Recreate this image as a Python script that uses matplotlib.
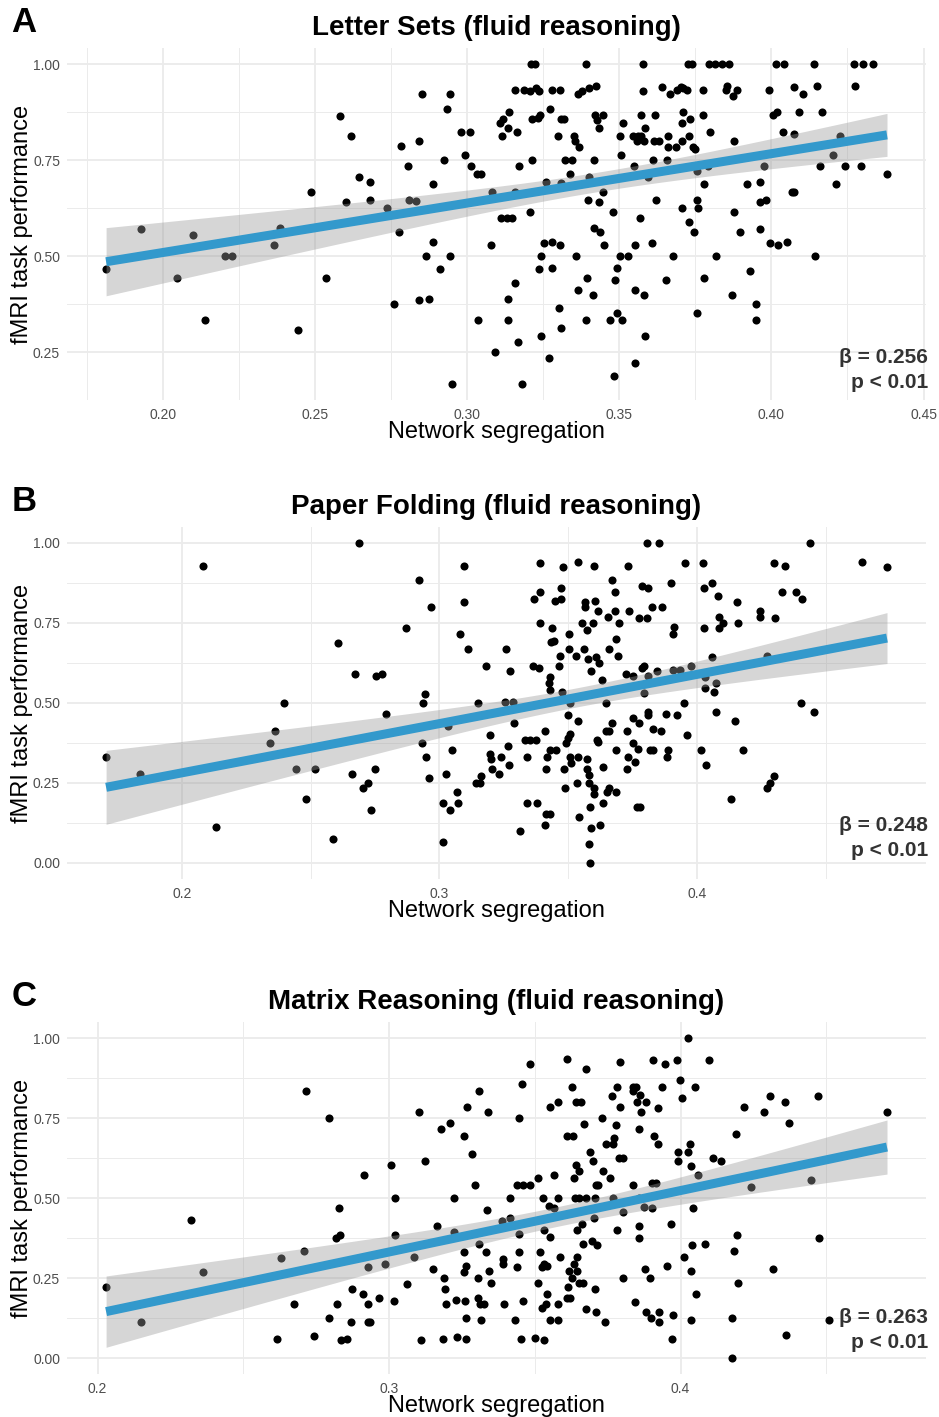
import numpy as np
import matplotlib.pyplot as plt
from matplotlib.ticker import MultipleLocator, FormatStrFormatter

plt.rcParams['font.family'] = ['Liberation Sans', 'DejaVu Sans']

panel_letters = ['A', 'B', 'C']
titles = ['Letter Sets (fluid reasoning)',
          'Paper Folding (fluid reasoning)',
          'Matrix Reasoning (fluid reasoning)']
stats = ['\u03b2 = 0.256\np < 0.01', '\u03b2 = 0.248\np < 0.01', '\u03b2 = 0.263\np < 0.01']
x_label = 'Network segregation'
y_label = 'fMRI task performance'

# (network segregation, task performance)
letter_sets = [
    (0.1813, 0.467), (0.1929, 0.571), (0.2045, 0.444), (0.2098, 0.556), (0.2139, 0.333),
    (0.2204, 0.500), (0.2227, 0.500), (0.2366, 0.530), (0.2384, 0.573), (0.2444, 0.307),
    (0.2488, 0.667), (0.2536, 0.444), (0.2600, 0.642), (0.2582, 0.866), (0.2618, 0.8125),
    (0.2646, 0.706),
    (0.3209, 1.000), (0.3224, 1.000), (0.3389, 1.000), (0.2850, 0.923), (0.2942, 0.923),
    (0.2932, 0.882), (0.3156, 0.933), (0.3188, 0.933), (0.3208, 0.931), (0.3225, 0.938),
    (0.3237, 0.929), (0.3280, 0.933), (0.3306, 0.933), (0.3365, 0.923), (0.3379, 0.931),
    (0.3401, 0.937), (0.3424, 0.943), (0.3272, 0.882), (0.3138, 0.875), (0.3119, 0.858),
    (0.3108, 0.847), (0.3134, 0.833), (0.3163, 0.824), (0.3115, 0.8125), (0.3213, 0.857),
    (0.3232, 0.859), (0.3240, 0.867), (0.3308, 0.857), (0.3317, 0.857), (0.3297, 0.8125),
    (0.3350, 0.8125), (0.3353, 0.800), (0.3367, 0.785), (0.3419, 0.867), (0.3447, 0.867),
    (0.3426, 0.854), (0.3434, 0.833), (0.3511, 0.847), (0.3503, 0.8125), (0.3505, 0.764),
    (0.2981, 0.824), (0.3010, 0.824), (0.2784, 0.786), (0.2842, 0.800), (0.2924, 0.750),
    (0.2994, 0.764), (0.2806, 0.734), (0.3011, 0.734), (0.3032, 0.714), (0.3045, 0.714),
    (0.3213, 0.750), (0.3171, 0.734), (0.3320, 0.750), (0.3343, 0.750), (0.3338, 0.714),
    (0.3417, 0.750), (0.2679, 0.692), (0.2679, 0.647), (0.2889, 0.6875), (0.2738, 0.626),
    (0.2810, 0.647), (0.2832, 0.643), (0.3082, 0.668), (0.3158, 0.668), (0.3258, 0.694),
    (0.3308, 0.691), (0.3402, 0.707), (0.3445, 0.667), (0.3396, 0.647), (0.3432, 0.641),
    (0.3206, 0.615), (0.3479, 0.615), (0.3111, 0.600), (0.3130, 0.600), (0.3148, 0.600),
    (0.2775, 0.5625), (0.3417, 0.572), (0.3437, 0.5625), (0.2889, 0.538), (0.3079, 0.5295),
    (0.3253, 0.533), (0.3280, 0.538), (0.3306, 0.5295), (0.3451, 0.5295), (0.2865, 0.500),
    (0.2943, 0.500), (0.3242, 0.500), (0.3358, 0.500), (0.3501, 0.500), (0.3530, 0.500),
    (0.2909, 0.466), (0.3237, 0.466), (0.3280, 0.469), (0.3492, 0.470), (0.3156, 0.429),
    (0.3395, 0.444), (0.3365, 0.411), (0.3414, 0.399), (0.3485, 0.4375), (0.2761, 0.375),
    (0.2842, 0.385), (0.2876, 0.389), (0.3134, 0.389), (0.3301, 0.364), (0.3494, 0.352),
    (0.3037, 0.333), (0.3134, 0.333), (0.3391, 0.333), (0.3470, 0.333), (0.3509, 0.333),
    (0.3310, 0.3125), (0.3241, 0.293), (0.3167, 0.277), (0.3091, 0.250), (0.3270, 0.235),
    (0.2949, 0.167), (0.3181, 0.167), (0.3481, 0.187),
    (0.3579, 1.000), (0.3726, 1.000), (0.3740, 1.000), (0.3794, 1.000), (0.3813, 1.000),
    (0.3837, 1.000), (0.3862, 1.000), (0.4014, 1.000), (0.4042, 1.000), (0.4139, 1.000),
    (0.4271, 1.000), (0.4301, 1.000), (0.4333, 1.000),
    (0.3579, 0.929), (0.3642, 0.939), (0.3667, 0.923), (0.3689, 0.933), (0.3703, 0.939),
    (0.3711, 0.937), (0.3722, 0.933), (0.3776, 0.933), (0.3854, 0.943), (0.3852, 0.933),
    (0.3873, 0.918), (0.3887, 0.933), (0.3992, 0.933), (0.4075, 0.939), (0.4104, 0.923),
    (0.4150, 0.943), (0.4276, 0.943), (0.3570, 0.867), (0.3619, 0.867), (0.3709, 0.875),
    (0.3707, 0.847), (0.3733, 0.858), (0.3776, 0.867), (0.4005, 0.867), (0.4018, 0.875),
    (0.4090, 0.875), (0.4167, 0.875), (0.3585, 0.833), (0.3797, 0.824), (0.4037, 0.824),
    (0.4074, 0.819), (0.3545, 0.8125), (0.3563, 0.8125), (0.3573, 0.8125), (0.3558, 0.800),
    (0.3582, 0.800), (0.3613, 0.800), (0.3631, 0.800), (0.3659, 0.8125), (0.3707, 0.800),
    (0.3729, 0.8125), (0.3659, 0.785), (0.3687, 0.785), (0.3742, 0.785), (0.3750, 0.778),
    (0.3876, 0.800), (0.4225, 0.8125), (0.3610, 0.750), (0.3657, 0.750), (0.3547, 0.734),
    (0.3595, 0.705), (0.3754, 0.721), (0.3790, 0.734), (0.3977, 0.734), (0.4161, 0.734),
    (0.4241, 0.734), (0.4296, 0.734), (0.4203, 0.764), (0.4380, 0.715), (0.4214, 0.6875),
    (0.3777, 0.6875), (0.3920, 0.6875), (0.3961, 0.692), (0.3621, 0.647), (0.3755, 0.647),
    (0.3758, 0.624), (0.3706, 0.625), (0.3964, 0.641), (0.3981, 0.647), (0.4068, 0.667),
    (0.4073, 0.667), (0.3567, 0.600), (0.3730, 0.589), (0.3745, 0.5625), (0.3877, 0.615),
    (0.3896, 0.5625), (0.3962, 0.571), (0.3552, 0.5295), (0.3608, 0.533), (0.3996, 0.533),
    (0.4021, 0.5295), (0.4052, 0.538), (0.3675, 0.500), (0.3818, 0.500), (0.4143, 0.500),
    (0.3653, 0.4375), (0.3777, 0.444), (0.3931, 0.462), (0.3552, 0.411), (0.3582, 0.399),
    (0.3869, 0.399), (0.3754, 0.352), (0.3950, 0.375), (0.3949, 0.333), (0.3583, 0.293),
    (0.3551, 0.222),
]

paper_folding = [
    (0.1706, 0.332), (0.1837, 0.278), (0.2083, 0.929), (0.2133, 0.111), (0.2344, 0.376),
    (0.2362, 0.411), (0.2397, 0.500), (0.2444, 0.294), (0.2518, 0.294), (0.2482, 0.200),
    (0.2588, 0.076), (0.2605, 0.6875), (0.2659, 0.277), (0.2673, 0.589), (0.2686, 1.000),
    (0.2921, 0.883), (0.2969, 0.801), (0.2871, 0.734), (0.3095, 0.929), (0.3095, 0.814),
    (0.3080, 0.715), (0.3112, 0.668), (0.3260, 0.668), (0.3273, 0.600), (0.3180, 0.616),
    (0.2752, 0.584), (0.2775, 0.589), (0.2943, 0.529), (0.2937, 0.500), (0.2791, 0.467),
    (0.3150, 0.500), (0.3254, 0.502), (0.3284, 0.504), (0.3288, 0.4375), (0.3033, 0.427),
    (0.3196, 0.400), (0.2934, 0.376), (0.2947, 0.332), (0.3047, 0.353), (0.2958, 0.267),
    (0.2749, 0.294), (0.2723, 0.249), (0.2704, 0.235), (0.2736, 0.166), (0.3026, 0.277),
    (0.3069, 0.222), (0.3012, 0.186), (0.3040, 0.166), (0.3073, 0.186), (0.3012, 0.067),
    (0.3162, 0.272), (0.3140, 0.249), (0.3159, 0.249), (0.3201, 0.324), (0.3196, 0.341),
    (0.3202, 0.294), (0.3232, 0.277), (0.3237, 0.332), (0.3266, 0.364), (0.3271, 0.306),
    (0.3312, 0.100), (0.3339, 0.186), (0.3380, 0.186), (0.3412, 0.152), (0.3411, 0.118),
    (0.3429, 0.153), (0.3332, 0.384), (0.3351, 0.384), (0.3373, 0.384), (0.3339, 0.332),
    (0.3411, 0.411), (0.3429, 0.353), (0.3451, 0.353), (0.3412, 0.294), (0.3416, 0.332),
    (0.3390, 0.939), (0.3367, 0.824), (0.3390, 0.847), (0.3392, 0.751), (0.3438, 0.733),
    (0.3434, 0.689), (0.3444, 0.694), (0.3468, 0.647), (0.3470, 0.858), (0.3449, 0.819),
    (0.3470, 0.824), (0.3478, 0.924), (0.3364, 0.616), (0.3385, 0.610), (0.3464, 0.616),
    (0.3429, 0.582), (0.3426, 0.561), (0.3429, 0.539), (0.3477, 0.534), (0.3508, 0.499),
    (0.3500, 0.461), (0.3536, 0.445), (0.3506, 0.402), (0.3500, 0.390), (0.3493, 0.374),
    (0.3482, 0.294), (0.3506, 0.332), (0.3537, 0.332), (0.3509, 0.311), (0.3535, 0.251),
    (0.3488, 0.235), (0.3574, 0.324), (0.3574, 0.294), (0.3581, 0.275), (0.3579, 0.251),
    (0.3601, 0.235), (0.3601, 0.215), (0.3584, 0.176), (0.3636, 0.186), (0.3540, 0.143),
    (0.3587, 0.110), (0.3623, 0.118), (0.3579, 0.058), (0.3585, 0.000), (0.3536, 0.942),
    (0.3598, 0.929), (0.3566, 0.814), (0.3566, 0.799), (0.3603, 0.818), (0.3614, 0.786),
    (0.3554, 0.751), (0.3594, 0.751), (0.3574, 0.728), (0.3501, 0.715), (0.3501, 0.668),
    (0.3530, 0.647), (0.3562, 0.668), (0.3578, 0.636), (0.3607, 0.645), (0.3620, 0.624),
    (0.3587, 0.600), (0.3632, 0.573), (0.3668, 0.883), (0.3680, 0.847), (0.3682, 0.786),
    (0.3655, 0.770), (0.3698, 0.751), (0.3685, 0.700), (0.3657, 0.668), (0.3691, 0.647),
    (0.3645, 0.500), (0.3668, 0.4375), (0.3646, 0.411), (0.3659, 0.411), (0.3610, 0.384),
    (0.3616, 0.377), (0.3684, 0.353), (0.3633, 0.301), (0.3659, 0.235), (0.3649, 0.223),
    (0.3684, 0.223), (0.3733, 0.929), (0.3737, 0.786), (0.3725, 0.591), (0.3726, 0.411),
    (0.3733, 0.332), (0.3726, 0.294),
    (0.3805, 1.000), (0.3852, 1.000), (0.4439, 1.000), (0.3952, 0.939), (0.4022, 0.939),
    (0.4299, 0.939), (0.4343, 0.929), (0.4640, 0.942), (0.4737, 0.924), (0.3785, 0.866),
    (0.3810, 0.858), (0.3900, 0.876), (0.4025, 0.858), (0.4057, 0.876), (0.4080, 0.834),
    (0.4331, 0.847), (0.4384, 0.847), (0.4408, 0.824), (0.3776, 0.765), (0.3805, 0.765),
    (0.3825, 0.801), (0.3862, 0.801), (0.4154, 0.814), (0.4245, 0.786), (0.4245, 0.770),
    (0.4304, 0.765), (0.4084, 0.770), (0.4102, 0.751), (0.4157, 0.751), (0.4085, 0.733),
    (0.4025, 0.733), (0.3911, 0.736), (0.3908, 0.715), (0.4058, 0.644), (0.3792, 0.614),
    (0.3785, 0.610), (0.3846, 0.600), (0.3908, 0.603), (0.3934, 0.603), (0.3975, 0.616),
    (0.4271, 0.647), (0.3753, 0.584), (0.3810, 0.585), (0.4032, 0.582), (0.4074, 0.561),
    (0.4031, 0.546), (0.4066, 0.534), (0.3794, 0.530), (0.3950, 0.500), (0.3811, 0.473),
    (0.3811, 0.4625), (0.3880, 0.467), (0.3921, 0.4625), (0.4074, 0.471), (0.4405, 0.500),
    (0.4452, 0.471), (0.3753, 0.454), (0.3775, 0.436), (0.3830, 0.418), (0.3859, 0.411),
    (0.3962, 0.400), (0.4146, 0.445), (0.3753, 0.376), (0.3772, 0.357), (0.3818, 0.353),
    (0.3827, 0.353), (0.3886, 0.353), (0.3882, 0.332), (0.4017, 0.353), (0.4180, 0.353),
    (0.3758, 0.314), (0.4034, 0.307), (0.4299, 0.272), (0.4281, 0.249), (0.4271, 0.235),
    (0.4133, 0.200), (0.3768, 0.176), (0.3779, 0.176),
]

matrix_reasoning = [
    (0.2029, 0.222), (0.2148, 0.1125), (0.2321, 0.430), (0.2362, 0.268), (0.2617, 0.059),
    (0.2630, 0.3135), (0.2674, 0.168), (0.2708, 0.334), (0.2743, 0.068), (0.2714, 0.834),
    (0.2795, 0.751), (0.2794, 0.125), (0.2820, 0.168), (0.2827, 0.468), (0.2817, 0.376),
    (0.2833, 0.386), (0.2836, 0.057), (0.2855, 0.059), (0.2869, 0.1125), (0.2873, 0.215),
    (0.2915, 0.573), (0.3006, 0.602), (0.3124, 0.617), (0.3104, 0.770), (0.3019, 0.501),
    (0.3019, 0.386), (0.2928, 0.168), (0.2929, 0.1125), (0.2935, 0.1125), (0.2964, 0.189),
    (0.2909, 0.201), (0.2987, 0.295), (0.2928, 0.286), (0.3060, 0.232), (0.3018, 0.178),
    (0.3084, 0.315), (0.3152, 0.279), (0.3165, 0.4125), (0.3188, 0.251), (0.3192, 0.215),
    (0.3194, 0.168), (0.3230, 0.183), (0.3260, 0.178), (0.3264, 0.125), (0.3233, 0.067),
    (0.3263, 0.059), (0.3185, 0.059), (0.3109, 0.056), (0.3224, 0.501), (0.3223, 0.393),
    (0.3256, 0.332), (0.3264, 0.289), (0.3256, 0.268), (0.3305, 0.251), (0.3310, 0.357),
    (0.3333, 0.332), (0.3342, 0.273), (0.3349, 0.236), (0.3305, 0.189), (0.3313, 0.168),
    (0.3327, 0.168), (0.3314, 0.118), (0.3393, 0.168), (0.3432, 0.118), (0.3454, 0.059),
    (0.3459, 0.178), (0.3502, 0.0635), (0.3530, 0.057), (0.3179, 0.716), (0.3210, 0.735),
    (0.3256, 0.695), (0.3283, 0.639), (0.3266, 0.786), (0.3310, 0.834), (0.3340, 0.770),
    (0.3293, 0.540), (0.3335, 0.4625), (0.3388, 0.429), (0.3416, 0.439), (0.3390, 0.311),
    (0.3392, 0.295), (0.3438, 0.286), (0.3447, 0.332), (0.3447, 0.3875), (0.3413, 0.501),
    (0.3440, 0.540), (0.3459, 0.540), (0.3482, 0.540), (0.3511, 0.5625), (0.3456, 0.858),
    (0.3446, 0.751), (0.3483, 0.919), (0.3512, 0.236), (0.3540, 0.201), (0.3525, 0.155),
    (0.3539, 0.168), (0.3578, 0.168), (0.3553, 0.118), (0.3580, 0.118), (0.3518, 0.332),
    (0.3533, 0.295), (0.3541, 0.289), (0.3525, 0.286), (0.3586, 0.315), (0.3551, 0.377),
    (0.3531, 0.401), (0.3529, 0.501), (0.3550, 0.474), (0.3564, 0.469), (0.3580, 0.501),
    (0.3565, 0.573), (0.3551, 0.786), (0.3578, 0.801), (0.3609, 0.935), (0.3629, 0.847),
    (0.3677, 0.902), (0.3641, 0.801), (0.3659, 0.801), (0.3668, 0.730), (0.3731, 0.751),
    (0.3609, 0.695), (0.3630, 0.695), (0.3688, 0.644), (0.3700, 0.617), (0.3641, 0.602),
    (0.3651, 0.584), (0.3635, 0.5625), (0.3636, 0.501), (0.3653, 0.501), (0.3674, 0.501),
    (0.3707, 0.501), (0.3708, 0.540), (0.3716, 0.540), (0.3734, 0.584), (0.3759, 0.5625),
    (0.3661, 0.419), (0.3645, 0.401), (0.3703, 0.4375), (0.3782, 0.401), (0.3665, 0.357),
    (0.3697, 0.366), (0.3714, 0.353), (0.3616, 0.272), (0.3645, 0.273), (0.3633, 0.295),
    (0.3644, 0.315), (0.3628, 0.251), (0.3651, 0.236), (0.3666, 0.236), (0.3612, 0.223),
    (0.3610, 0.189), (0.3622, 0.189), (0.3705, 0.215), (0.3676, 0.153), (0.3711, 0.145),
    (0.3742, 0.1125), (0.3766, 0.820), (0.3781, 0.847), (0.3793, 0.786), (0.3793, 0.924),
    (0.3777, 0.729), (0.3743, 0.668), (0.3767, 0.668), (0.3770, 0.689), (0.3789, 0.626),
    (0.3802, 0.626), (0.3767, 0.501), (0.3802, 0.457), (0.3802, 0.251),
    (0.4025, 1.000), (0.3904, 0.930), (0.3948, 0.918), (0.3987, 0.930), (0.4098, 0.930),
    (0.3838, 0.847), (0.3847, 0.847), (0.3836, 0.834), (0.3861, 0.822), (0.3849, 0.801),
    (0.3881, 0.801), (0.3863, 0.770), (0.3924, 0.780), (0.3936, 0.847), (0.3998, 0.869),
    (0.4005, 0.814), (0.4051, 0.847), (0.3858, 0.716), (0.3910, 0.694), (0.3921, 0.668),
    (0.3990, 0.644), (0.4027, 0.644), (0.4033, 0.668), (0.3992, 0.617), (0.4034, 0.601),
    (0.4061, 0.573), (0.4216, 0.786), (0.4287, 0.770), (0.4305, 0.820), (0.4358, 0.801),
    (0.4470, 0.820), (0.4372, 0.734), (0.4191, 0.701), (0.4708, 0.770), (0.4110, 0.626),
    (0.4138, 0.617), (0.3836, 0.540), (0.3903, 0.547), (0.3915, 0.547), (0.3858, 0.499),
    (0.3874, 0.471), (0.3901, 0.469), (0.4042, 0.468), (0.4242, 0.535), (0.4448, 0.557),
    (0.3856, 0.4125), (0.3857, 0.376), (0.3968, 0.418), (0.4038, 0.353), (0.4083, 0.357),
    (0.4192, 0.385), (0.4184, 0.334), (0.4475, 0.376), (0.4012, 0.315), (0.3952, 0.289),
    (0.3877, 0.278), (0.3895, 0.251), (0.4036, 0.273), (0.4317, 0.278), (0.4196, 0.236),
    (0.4053, 0.201), (0.3845, 0.176), (0.3881, 0.145), (0.3897, 0.126), (0.3927, 0.143),
    (0.3925, 0.1125), (0.3975, 0.134), (0.4036, 0.118), (0.4177, 0.126), (0.3971, 0.059),
    (0.4362, 0.072), (0.4175, 0.000), (0.4509, 0.118),
]

datasets = [letter_sets, paper_folding, matrix_reasoning]
x_steps = [0.05, 0.1, 0.1]
x_formats = ['%.2f', '%.1f', '%.1f']
stat_y = [0.085, 0.115, 0.126]


def lm_band(x, y):
    # ordinary least squares + 95% confidence band, like geom_smooth(method = "lm")
    n = len(x)
    slope, intercept = np.polyfit(x, y, 1)
    xs = np.linspace(x.min(), x.max(), 100)
    fit = intercept + slope * xs
    resid = y - (intercept + slope * x)
    s = np.sqrt(np.sum(resid ** 2) / (n - 2))
    se = s * np.sqrt(1 / n + (xs - x.mean()) ** 2 / np.sum((x - x.mean()) ** 2))
    return xs, fit, 1.97 * se


fig = plt.figure(figsize=(9.39, 14.17), dpi=100)
bottoms = [0.7177, 0.3797, 0.0303]

for i, pts in enumerate(datasets):
    arr = np.array(pts)
    x, y = arr[:, 0], arr[:, 1]
    ax = fig.add_axes([0.0714, bottoms[i], 0.9148, 0.2484])

    ax.scatter(x, y, s=34, color='black', linewidths=0, zorder=2)
    xs, fit, ci = lm_band(x, y)
    ax.fill_between(xs, fit - ci, fit + ci, color='#999999', alpha=0.4, lw=0, zorder=3)
    ax.plot(xs, fit, color='#3399cc', lw=6.5, solid_capstyle='butt', zorder=4)

    ax.margins(x=0.05, y=0.05)
    ax.xaxis.set_major_locator(MultipleLocator(x_steps[i]))
    ax.xaxis.set_minor_locator(MultipleLocator(x_steps[i] / 2))
    ax.xaxis.set_major_formatter(FormatStrFormatter(x_formats[i]))
    ax.yaxis.set_major_locator(MultipleLocator(0.25))
    ax.yaxis.set_minor_locator(MultipleLocator(0.125))
    ax.yaxis.set_major_formatter(FormatStrFormatter('%.2f'))

    ax.grid(which='major', color='#ebebeb', lw=1.3)
    ax.grid(which='minor', color='#ebebeb', lw=0.7)
    ax.set_axisbelow(True)
    for sp in ax.spines.values():
        sp.set_visible(False)
    ax.tick_params(which='both', length=0, labelsize=10, labelcolor='#4d4d4d')
    ax.tick_params(axis='x', pad=6)
    ax.tick_params(axis='y', pad=5)

    ax.set_xlabel(x_label, fontsize=17, color='black')
    ax.xaxis.set_label_coords(0.5, -0.06)
    ax.set_ylabel(y_label, fontsize=17, color='black')
    ax.yaxis.set_label_coords(-0.040, 0.5)

    ax.text(0.5, 1.057, titles[i], transform=ax.transAxes, ha='center', va='center',
            fontsize=20, fontweight='bold')
    ax.text(-0.065, 1.072, panel_letters[i], transform=ax.transAxes, ha='left', va='center',
            fontsize=25, fontweight='bold')
    ax.text(1.002, stat_y[i], stats[i], transform=ax.transAxes, ha='right', va='center',
            multialignment='right', fontsize=15, fontweight='bold', color='#333333',
            linespacing=1.4, zorder=5)

fig.savefig('out.png', dpi=100, facecolor='white')
